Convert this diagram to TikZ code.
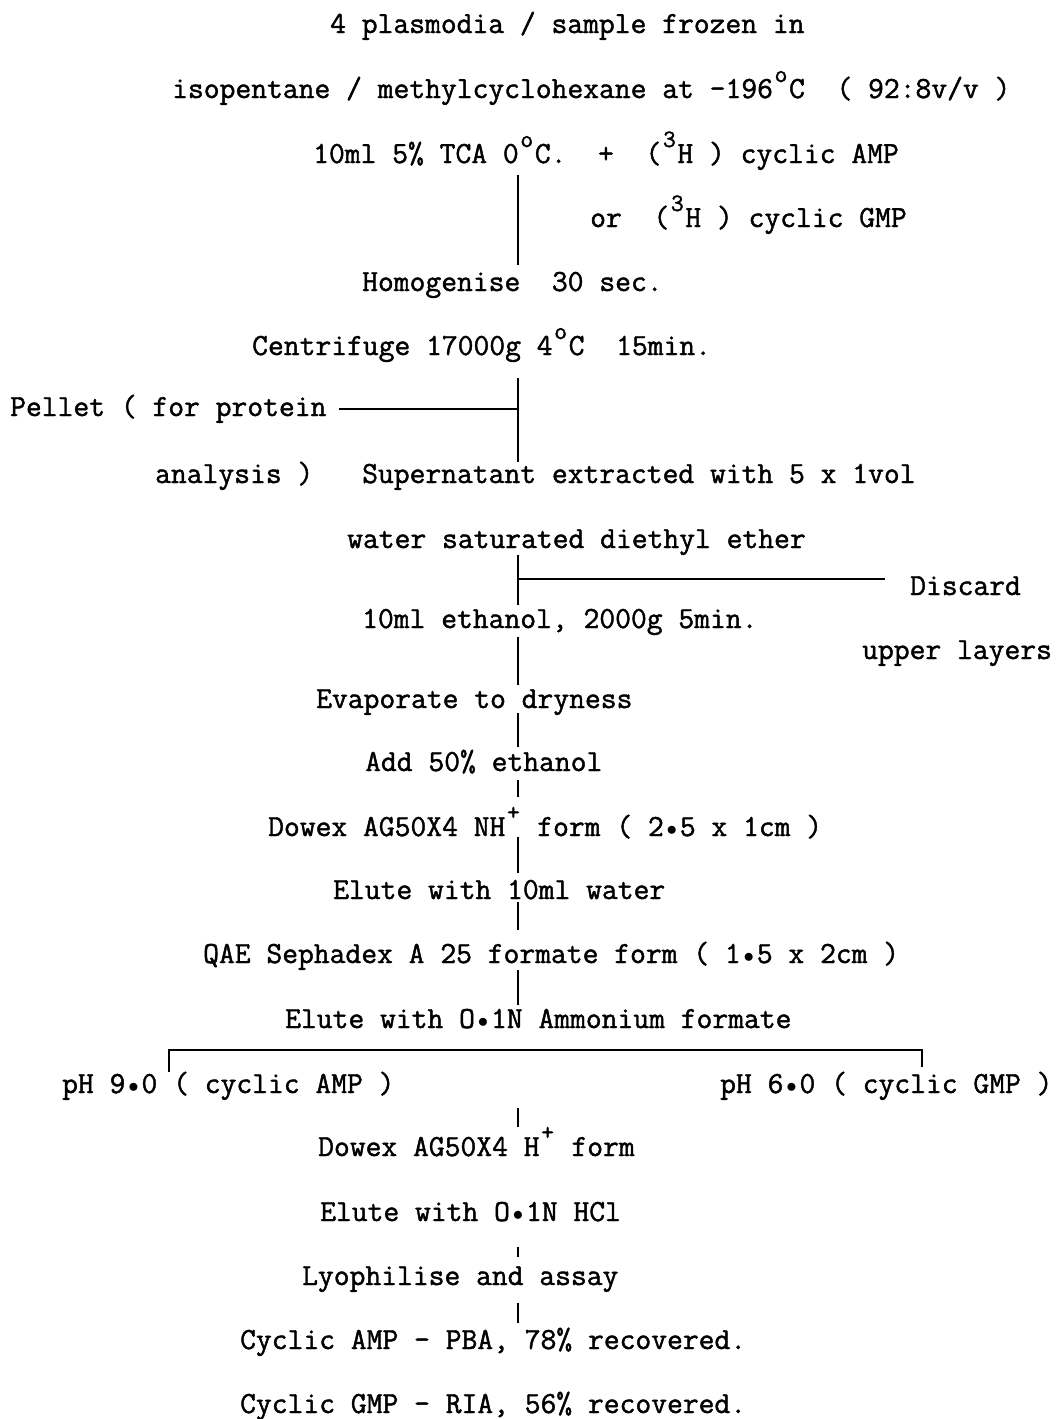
\documentclass[tikz,border=0pt]{standalone}
\usepackage{fontspec}
\newfontfamily\tw[FakeBold=1.4]{Latin Modern Mono}
% raised character occupying one typewriter cell
\newcommand\upc[1]{\makebox[0.525em][c]{\raisebox{0.52em}{\fontsize{25}{25}\selectfont #1}}}
% centred dot occupying one typewriter cell
\newcommand\bul{\makebox[0.525em][c]{\raisebox{0.02em}{$\scriptstyle\bullet$}}}
\begin{document}
\begin{tikzpicture}[x=1pt,y=-1pt,
  tx/.style={anchor=base west,inner sep=0pt,text height=22pt,text depth=8pt,
    font=\tw\fontsize{30.7}{36}\selectfont},
  ln/.style={line width=1.9pt}]
\useasboundingbox (0,0) rectangle (1062,1419);
\coordinate (ax) at (518,0);

% steps of the extraction
\node[tx] (l1)  at (330,33)   {4 plasmodia / sample frozen in};
\node[tx] (l2)  at (172,98)   {isopentane / methylcyclohexane at -196\upc{o}C~~( 92:8v/v )};
\node[tx] (l3)  at (313,163)  {10ml 5\% TCA 0\upc{o}C.~~+~~(\upc{3}H ) cyclic AMP};
\node[tx] (l4)  at (590,227)  {or~~(\upc{3}H ) cyclic GMP};
\node[tx] (l5)  at (362,291)  {Homogenise~~30 sec.};
\node[tx] (l6)  at (252,355)  {Centrifuge 17000g 4\upc{o}C~~15min.};
\node[tx] (pel) at (10,416)   {Pellet ( for protein};
\node[tx] (ana) at (155,483)  {analysis )};
\node[tx] (l8)  at (362,483)  {Supernatant extracted with 5 x 1vol};
\node[tx] (l9)  at (347,548)  {water saturated diethyl ether};
\node[tx] (dis) at (910,595)  {Discard};
\node[tx] (l10) at (362,628)  {10ml ethanol, 2000g 5min.};
\node[tx] (upl) at (862,659)  {upper layers};
\node[tx] (l12) at (316,708)  {Evaporate to dryness};
\node[tx] (l13) at (365,771)  {Add 50\% ethanol};
\node[tx] (l14) at (268,836)  {Dowex AG50X4 NH\upc{+} form ( 2\bul5 x 1cm )};
\node[tx] (l15) at (333,899)  {Elute with 10ml water};
\node[tx] (l16) at (203,963)  {QAE Sephadex A 25 formate form ( 1\bul5 x 2cm )};
\node[tx] (l17) at (285,1028) {Elute with O\bul1N Ammonium formate};
\node[tx] (ph9) at (62,1093)  {pH 9\bul0 ( cyclic AMP )};
\node[tx] (ph6) at (720,1093) {pH 6\bul0 ( cyclic GMP )};
\node[tx] (l21) at (318,1156) {Dowex AG50X4 H\upc{+} form};
\node[tx] (l22) at (320,1221) {Elute with O\bul1N HCl};
\node[tx] (l23) at (302,1285) {Lyophilise and assay};
\node[tx] (l24) at (240,1349) {Cyclic AMP - PBA, 78\% recovered.};
\node[tx] (l25) at (240,1413) {Cyclic GMP - RIA, 56\% recovered.};

% main flow line
\draw[ln,shorten <=4pt,shorten >=4pt]  (l3.south -| ax)  -- (l5.north -| ax);
\draw[ln,shorten <=15pt,shorten >=-1pt] (l6.south -| ax) -- (l8.north -| ax);
\draw[ln,shorten <=-1pt,shorten >=1pt] (l9.south -| ax)  -- (l10.north -| ax);
\draw[ln,shorten <=1pt,shorten >=1pt]  (l10.south -| ax) -- (l12.north -| ax);
\draw[ln,shorten <=-3pt,shorten >=2pt] (l12.south -| ax) -- (l13.north -| ax);
\draw[ln,shorten <=1pt,shorten >=17pt] (l13.south -| ax) -- (l14.north -| ax);
\draw[ln,shorten <=-7pt,shorten >=4pt] (l14.south -| ax) -- (l15.north -| ax);
\draw[ln,shorten <=-5pt,shorten >=11pt] (l15.south -| ax) -- (l16.north -| ax);
\draw[ln,shorten <=-1pt,shorten >=1pt] (l16.south -| ax) -- (l17.north -| ax);

% side branches
\draw[ln,shorten <=12pt] (pel.east) -- (pel.east -| ax);
\coordinate (dl) at ([xshift=-25pt,yshift=9pt]dis.west);
\draw[ln] (dl -| ax) -- (dl);

% split by pH
\coordinate (bl) at (169,1072);
\coordinate (bt) at (520,1050);
\coordinate (br) at (922,1067);
\draw[ln] (bl) |- (bt) -| (br);

% lower steps
\draw[ln,shorten <=7pt] (l21.north -| ax) -- ++(0,-26);
\draw[ln,shorten <=18pt,shorten >=6pt] (l22.south -| ax) -- (l23.north -| ax);
\draw[ln,shorten <=10pt,shorten >=4pt] (l23.south -| ax) -- (l24.north -| ax);
\end{tikzpicture}
\end{document}
